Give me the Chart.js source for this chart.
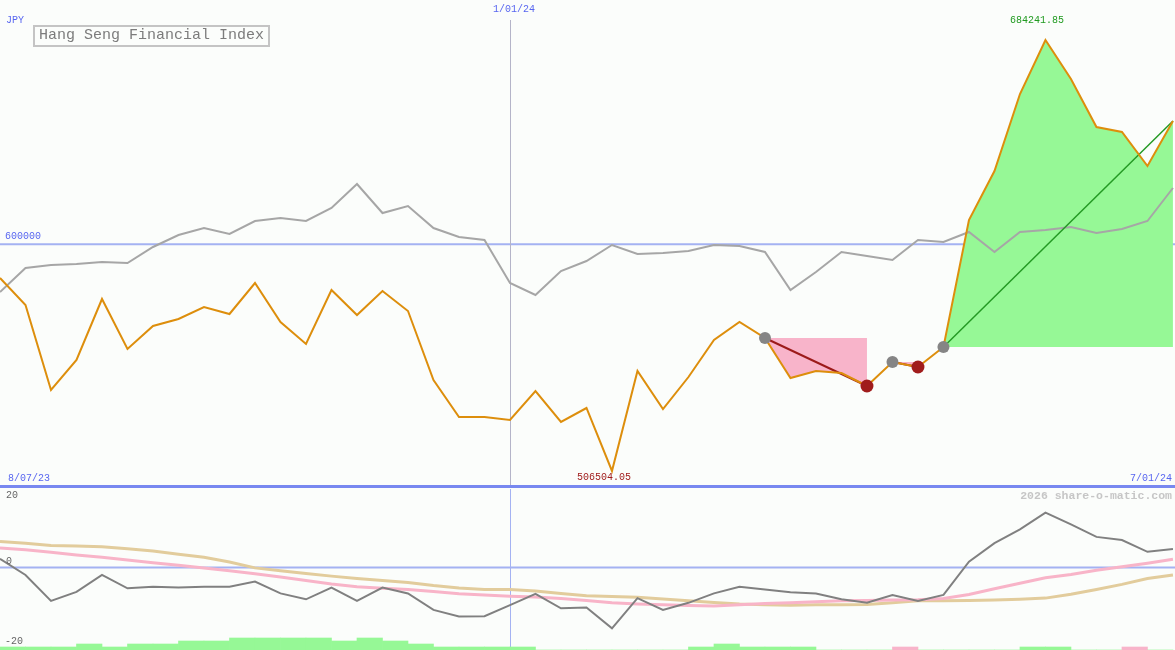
<!DOCTYPE html>
<html lang="en">
<head>
<meta charset="UTF-8">
<title>Hang Seng Financial Index</title>
<script src="https://cdn.jsdelivr.net/npm/chart.js"></script>
<style>
    body { margin: 0; background: #fbfdfb; width: 1175px; height: 650px; overflow: hidden; position: relative;
           font-family: "Liberation Mono", "DejaVu Sans Mono", monospace; }
    .box { position: absolute; left: 0; width: 1175px; }
    #box_main { top: 0; height: 487px; }
    #box_lower { top: 489px; height: 161px; }
    .sep { position: absolute; left: 0; top: 485px; width: 1175px; height: 3px; background: #7888f0; }
    .lbl { position: absolute; font-size: 10px; line-height: 12px; white-space: nowrap; }
    .blue { color: #5866f0; }
    .titulo { position: absolute; left: 33px; top: 25px; border: 2px solid #c4c4c4; padding: 0 4px;
              font-size: 15px; line-height: 18px; color: #7c7c7c; white-space: nowrap; }
    .marca { position: absolute; right: 3px; top: 489px; font-size: 11.5px; line-height: 13px; font-weight: bold; color: #c6c6c6; }
</style>
</head>
<body>
    <div class="box" id="box_main"><canvas id="grafico_principal"></canvas></div>
    <div class="sep"></div>
    <div class="box" id="box_lower"><canvas id="grafico_inferior"></canvas></div>

    <div class="lbl blue" style="left:6px; top:15px;">JPY</div>
    <div class="titulo">Hang Seng Financial Index</div>
    <div class="lbl blue" id="lbl_meio" style="left:493px; top:4px;"></div>
    <div class="lbl blue" style="left:5px; top:231px;">600000</div>
    <div class="lbl" id="lbl_max" style="left:1010px; top:15px; color:#1f9a1f;"></div>
    <div class="lbl" id="lbl_min" style="left:577px; top:472px; color:#a01c1c;"></div>
    <div class="lbl blue" id="lbl_ini" style="left:8px; top:473px;"></div>
    <div class="lbl blue" id="lbl_fim" style="right:3px; top:473px;"></div>
    <div class="marca">2026 share-o-matic.com</div>
    <div class="lbl" style="left:6px; top:490px; color:#666;">20</div>
    <div class="lbl" style="left:6px; top:556px; color:#666;">0</div>
    <div class="lbl" style="left:5px; top:636px; color:#666;">-20</div>

<script>
    // weekly closes, 14 Aug 2023 .. 1 Jul 2024
    const precos = [586091, 574956, 539902, 552274, 577430, 556810, 566296, 569182, 574131, 571244,
                    584029, 567945, 558872, 581142, 570832, 580730, 572482, 544026, 528767, 528767,
                    527530, 539490, 526705, 532479, 506504.05, 547738, 532066, 545263, 560522, 567945,
                    561347, 544851, 547738, 546913, 541552, 551449, 549387, 557635, 610010, 630218,
                    661972, 684241.85, 668158, 648363, 646301, 632280, 650838];
    const media = [580317, 590215, 591452, 591864, 592689, 592277, 598875, 603824, 606711, 604236,
                   609598, 610835, 609598, 614959, 624856, 612897, 615784, 606711, 602999, 601762,
                   584029, 579080, 588978, 593102, 599700, 595988, 596401, 597226, 599700, 599288,
                   596813, 581142, 588565, 596813, 595164, 593514, 601762, 600937, 605061, 596813,
                   605061, 605886, 607123, 604649, 606298, 609598, 623207];
    const momento = [2.2, -1.9, -8.5, -6.2, -1.9, -5.3, -4.9, -5.1, -4.9, -4.9,
                     -3.6, -6.6, -8.1, -5.1, -8.5, -5.1, -6.6, -10.8, -12.5, -12.4,
                     -9.6, -6.7, -10.4, -10.2, -15.5, -7.8, -10.8, -9.0, -6.6, -4.9,
                     -5.6, -6.3, -6.6, -8.1, -9.0, -7.0, -8.5, -7.0, 1.5, 6.2,
                     9.7, 14.0, 11.0, 7.8, 7.0, 4.0, 4.7];
    const media_lenta = [6.6, 6.2, 5.6, 5.5, 5.3, 4.8, 4.2, 3.4, 2.6, 1.4,
                         -0.1, -0.8, -1.5, -2.2, -2.8, -3.3, -3.8, -4.6, -5.2, -5.6,
                         -5.6, -6.0, -6.6, -7.2, -7.4, -7.6, -8.0, -8.5, -8.9, -9.3,
                         -9.5, -9.6, -9.5, -9.5, -9.4, -9.0, -8.5, -8.5, -8.4, -8.3,
                         -8.1, -7.8, -6.8, -5.6, -4.3, -2.8, -1.9];
    const media_rapida = [5.0, 4.5, 3.9, 3.2, 2.6, 1.9, 1.2, 0.6, -0.1, -0.8,
                          -1.6, -2.4, -3.3, -4.2, -4.9, -5.3, -5.6, -6.1, -6.7, -7.0,
                          -7.3, -7.5, -7.9, -8.4, -9.0, -9.3, -9.5, -9.7, -9.8, -9.5,
                          -9.2, -9.0, -8.7, -8.5, -8.4, -8.3, -8.2, -7.9, -6.9, -5.4,
                          -4.0, -2.6, -1.8, -0.7, 0.2, 1.1, 2.1];
    // signal bars between weeks: 1 = buy (green), -1 = sell (pink)
    const barras_nivel = [1, 1, 1, 2, 1, 2, 2, 3, 3, 4, 4, 4, 4, 3, 4, 3, 2, 1, 1, 1,
                          1, 0, 0, 0, 0, 0, 0, 1, 2, 1, 1, 1, 0, 0, 0, 1, 0, 0, 0, 0,
                          1, 1, 0, 0, 1, 0];
    const barras_tipo = [1, 1, 1, 1, 1, 1, 1, 1, 1, 1, 1, 1, 1, 1, 1, 1, 1, 1, 1, 1,
                         1, 0, 0, 0, 0, 0, 0, 1, 1, 1, 1, 1, 0, 0, 0, -1, 0, 0, 0, 0,
                         1, 1, 0, 0, -1, 0];
    const entradas = [30, 35, 37];
    const saidas = [34, 36, 46];
    const rotulos_data = ['8/07/23', '1/01/24', '7/01/24'];
    const semana_meio = 20;

    lbl_ini.innerHTML = rotulos_data[0];
    lbl_meio.innerHTML = rotulos_data[1];
    lbl_fim.innerHTML = rotulos_data[2];
    lbl_max.innerHTML = Math.max(...precos).toFixed(2);
    lbl_min.innerHTML = Math.min(...precos).toFixed(2);

    function pontos(lista) {
        return lista.map((v, i) => ({x: i, y: v}));
    }

    // horizontal reference + vertical date line
    const linhasRef = {
        id: 'linhasRef',
        beforeDatasetsDraw(chart, args, opts) {
            const ctx = chart.ctx;
            const a = chart.chartArea;
            ctx.save();
            const y = chart.scales.y.getPixelForValue(opts.nivel);
            ctx.strokeStyle = '#a4b2f2';
            ctx.lineWidth = 2;
            ctx.beginPath();
            ctx.moveTo(a.left, y);
            ctx.lineTo(a.right, y);
            ctx.stroke();
            const x = Math.round(chart.scales.x.getPixelForValue(semana_meio)) + 0.5;
            ctx.strokeStyle = opts.corV;
            ctx.lineWidth = 1;
            ctx.beginPath();
            ctx.moveTo(x, opts.topoV);
            ctx.lineTo(x, a.bottom);
            ctx.stroke();
            ctx.restore();
        }
    };

    const eixoX = {type: 'linear', display: false, min: 0, max: 46.08, offset: false};

    // main panel datasets (first in list = drawn on top)
    const ds_principal = [];
    ds_principal.push({
        data: entradas.map(i => ({x: i, y: precos[i]})),
        showLine: false, pointRadius: 6, pointBackgroundColor: '#858585', pointBorderWidth: 0
    });
    ds_principal.push({
        data: saidas.slice(0, 2).map(i => ({x: i, y: precos[i]})),
        showLine: false, pointRadius: 6.5, pointBackgroundColor: '#a01c1c', pointBorderWidth: 0
    });
    ds_principal.push({data: pontos(precos), borderColor: '#dd8e0c', borderWidth: 2, pointRadius: 0});
    for (let t = 0; t < entradas.length; t++) {
        const aberta = t == entradas.length - 1;
        ds_principal.push({
            data: [{x: entradas[t], y: precos[entradas[t]]}, {x: saidas[t], y: precos[saidas[t]]}],
            borderColor: aberta ? '#249a24' : '#9c1a1a', borderWidth: aberta ? 1.5 : 2, pointRadius: 0
        });
    }
    ds_principal.push({data: pontos(media), borderColor: '#a6a6a6', borderWidth: 2, pointRadius: 0});
    for (let t = 0; t < entradas.length; t++) {
        const aberta = t == entradas.length - 1;
        const nivel = [];
        for (let i = entradas[t]; i <= saidas[t]; i++) nivel.push({x: i, y: precos[entradas[t]]});
        ds_principal.push({
            data: nivel, borderWidth: 0, pointRadius: 0,
            backgroundColor: aberta ? '#96f896' : '#f8b4ca',
            fill: {target: 2}
        });
    }

    new Chart(document.getElementById('grafico_principal'), {
        type: 'line',
        data: {datasets: ds_principal},
        options: {
            responsive: true, maintainAspectRatio: false, animation: false,
            layout: {padding: 0, autoPadding: false},
            elements: {line: {tension: 0}},
            scales: {x: eixoX, y: {display: false, min: 499899, max: 700738}},
            plugins: {legend: {display: false}, tooltip: {enabled: false},
                      linhasRef: {nivel: 600000, corV: '#b4b4c8', topoV: 20}}
        },
        plugins: [linhasRef]
    });

    new Chart(document.getElementById('grafico_inferior'), {
        type: 'line',
        data: {
            datasets: [
                {data: pontos(momento), borderColor: '#808080', borderWidth: 2, pointRadius: 0},
                {data: pontos(media_rapida), borderColor: '#f8b4c8', borderWidth: 3, pointRadius: 0},
                {data: pontos(media_lenta), borderColor: '#e2cc9c', borderWidth: 3, pointRadius: 0},
                {
                    type: 'bar', yAxisID: 'yb',
                    data: barras_nivel.map((v, i) => ({x: i + 0.5, y: v})),
                    backgroundColor: barras_tipo.map(k => k < 0 ? '#f8b4ca' : '#96f896'),
                    barPercentage: 1, categoryPercentage: 1, borderWidth: 0
                }
            ]
        },
        options: {
            responsive: true, maintainAspectRatio: false, animation: false,
            layout: {padding: 0, autoPadding: false},
            elements: {line: {tension: 0}},
            scales: {
                x: eixoX,
                y: {display: false, min: -21.02, max: 20},
                yb: {display: false, min: 0, max: 53.7}
            },
            plugins: {legend: {display: false}, tooltip: {enabled: false},
                      linhasRef: {nivel: 0, corV: '#a4b2f2', topoV: 0}}
        },
        plugins: [linhasRef]
    });
</script>
</body>
</html>
